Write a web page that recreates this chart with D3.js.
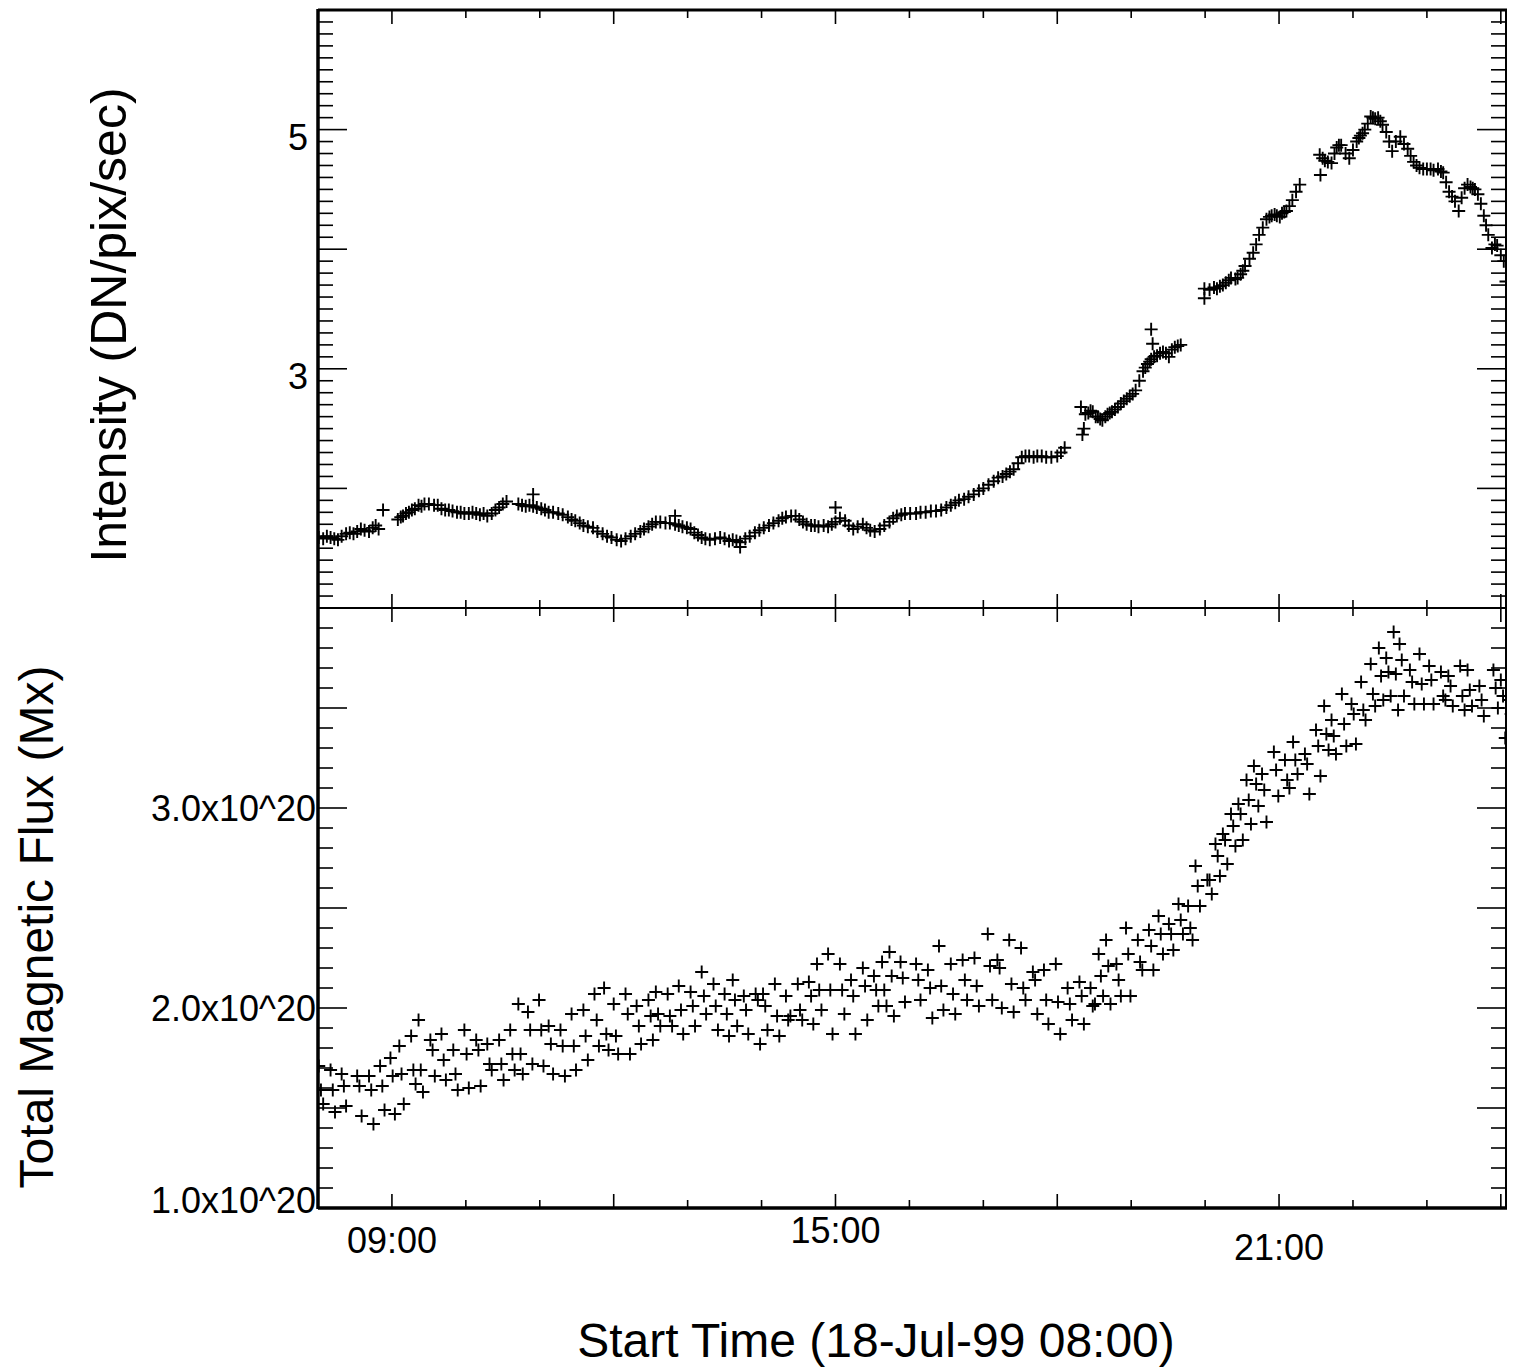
<!DOCTYPE html>
<html>
<head>
<meta charset="utf-8">
<title>Intensity and total magnetic flux, 18-Jul-99</title>
<script src="https://cdn.jsdelivr.net/npm/d3@7"></script>
<style>
  body { margin:0; background:#fff; }
  svg { display:block; }
  text { font-family: "Liberation Sans", Arial, Helvetica, sans-serif; fill:#000; }
</style>
</head>
<body>
<svg id="chart" width="1519" height="1370"></svg>
<script>
// ---- data (hours after 18-Jul-99 00:00) ----
const intHours = [
  8.01,8.07,8.12,8.17,8.22,8.27,8.32,8.38,8.43,8.48,8.53,8.58,8.63,8.69,8.74,8.78,8.82,8.88,
  9.08,9.12,9.15,9.19,9.23,9.27,9.31,9.36,9.40,9.44,9.50,9.57,9.62,9.67,9.72,9.77,9.82,9.88,9.93,9.98,
  10.04,10.09,10.14,10.19,10.24,10.29,10.35,10.40,10.45,10.50,10.55,
  10.71,10.76,10.81,10.86,10.91,10.91,10.96,11.02,11.07,11.12,11.18,11.25,11.31,11.38,11.43,11.48,11.54,
  11.59,11.65,11.72,11.78,11.85,11.91,11.97,12.04,12.10,12.16,12.23,12.29,12.36,12.41,12.47,12.52,12.57,
  12.63,12.70,12.76,12.83,12.83,12.88,12.93,12.99,13.04,13.09,13.14,13.19,13.24,13.30,13.37,13.44,13.50,
  13.56,13.61,13.66,13.71,13.71,13.78,13.84,13.91,13.97,14.03,14.10,14.16,14.23,14.28,14.33,14.40,14.46,
  14.51,14.56,14.61,14.67,14.72,14.77,14.84,14.90,14.95,15.00,15.00,15.06,15.13,15.18,15.24,15.30,15.37,
  15.42,15.47,15.53,15.60,15.66,15.73,15.78,15.83,15.89,15.94,16.01,16.09,16.15,16.22,16.29,16.36,16.43,
  16.50,16.56,16.62,16.67,16.74,16.80,16.87,16.94,17.00,17.07,17.14,17.20,17.26,17.31,17.36,17.41,17.47,
  17.52,17.57,17.62,17.68,17.73,17.79,17.85,17.92,18.00,18.05,18.10,
  18.32,18.34,18.36,18.38,18.42,18.45,18.48,18.52,18.55,18.58,18.61,18.65,18.68,18.71,18.74,18.78,18.82,
  18.86,18.90,18.94,18.98,19.02,19.06,19.11,19.16,19.19,19.22,19.25,19.27,19.27,19.29,19.31,19.35,19.39,
  19.43,19.47,19.51,19.55,19.59,19.63,19.67,
  19.99,19.99,20.06,20.12,20.16,20.20,20.24,20.28,20.32,20.35,20.41,20.44,20.48,20.51,20.54,20.60,20.65,
  20.69,20.73,20.78,20.83,20.87,20.90,20.94,20.97,21.01,21.04,21.07,21.10,21.14,21.18,21.23,21.28,
  21.55,21.56,21.59,21.62,21.66,21.71,21.75,21.78,21.81,21.84,21.90,21.95,22.00,22.05,22.08,22.10,22.13,
  22.16,22.20,22.24,22.27,22.30,22.34,22.37,22.40,22.45,22.49,22.53,22.58,22.64,22.69,22.74,22.78,22.82,
  22.86,22.90,22.95,23.00,23.05,23.09,23.15,23.19,23.22,23.26,23.30,23.34,23.38,23.43,23.47,23.51,23.55,
  23.59,23.62,23.65,23.69,23.73,23.77,23.80,23.83,23.88,23.92,23.95,24.00,24.04,24.07
];
const intValues = [
  1.59,1.58,1.60,1.59,1.58,1.57,1.60,1.62,1.63,1.62,1.64,1.66,1.65,1.64,1.67,1.69,1.66,1.82,
  1.74,1.76,1.77,1.79,1.80,1.82,1.83,1.86,1.85,1.87,1.87,1.86,1.86,1.83,1.82,1.82,1.81,1.80,1.80,1.79,
  1.79,1.80,1.79,1.78,1.79,1.77,1.79,1.82,1.84,1.87,1.89,
  1.87,1.86,1.85,1.86,1.85,1.95,1.84,1.83,1.82,1.80,1.80,1.79,1.78,1.76,1.74,1.73,1.71,
  1.69,1.68,1.67,1.64,1.62,1.60,1.59,1.57,1.56,1.58,1.60,1.62,1.64,1.66,1.68,1.70,1.72,
  1.72,1.71,1.71,1.70,1.77,1.69,1.68,1.67,1.66,1.63,1.61,1.59,1.58,1.57,1.58,1.59,1.58,
  1.56,1.57,1.56,1.55,1.51,1.58,1.60,1.63,1.65,1.67,1.69,1.71,1.73,1.75,1.76,1.77,1.77,
  1.74,1.72,1.70,1.69,1.69,1.68,1.69,1.68,1.70,1.72,1.84,1.75,1.73,1.69,1.66,1.68,1.70,
  1.67,1.65,1.64,1.66,1.69,1.72,1.75,1.77,1.78,1.79,1.79,1.79,1.80,1.80,1.81,1.81,1.82,
  1.84,1.86,1.88,1.90,1.91,1.93,1.95,1.98,2.00,2.03,2.06,2.09,2.10,2.12,2.14,2.16,2.21,
  2.26,2.27,2.27,2.26,2.27,2.27,2.26,2.26,2.27,2.30,2.34,
  2.68,2.45,2.50,2.62,2.63,2.65,2.64,2.60,2.60,2.58,2.57,2.60,2.62,2.63,2.64,2.66,2.68,
  2.71,2.73,2.75,2.77,2.79,2.82,2.90,2.98,3.01,3.04,3.06,3.08,3.33,3.21,3.10,3.11,3.13,
  3.14,3.13,3.10,3.16,3.18,3.19,3.20,
  3.67,3.59,3.66,3.68,3.67,3.69,3.70,3.72,3.74,3.76,3.75,3.76,3.79,3.82,3.86,3.92,3.97,
  4.04,4.12,4.18,4.25,4.27,4.28,4.29,4.28,4.27,4.30,4.31,4.32,4.36,4.41,4.48,4.54,
  4.79,4.62,4.76,4.74,4.73,4.72,4.80,4.85,4.87,4.87,4.80,4.76,4.83,4.90,4.93,4.95,4.97,
  5.00,5.05,5.11,5.10,5.09,5.10,5.07,5.04,4.98,4.90,4.82,4.90,4.94,4.88,4.84,4.78,4.73,
  4.70,4.68,4.67,4.67,4.67,4.66,4.67,4.65,4.64,4.56,4.48,4.44,4.40,4.32,4.43,4.51,4.54,
  4.52,4.51,4.50,4.46,4.38,4.28,4.20,4.12,4.01,4.04,4.03,3.95,3.90,3.73
];

// total magnetic flux, in units of 1e20 Mx, three interleaved samples per time step
const fluxHours = [
  8.01,8.17,8.32,8.53,8.69,8.84,8.98,9.10,9.26,9.36,9.52,9.67,9.83,9.98,10.14,10.29,10.45,10.60,10.71,
  10.84,10.99,11.12,11.28,11.43,11.59,11.74,11.87,12.00,12.16,12.31,12.47,12.57,12.73,12.88,13.04,13.19,
  13.35,13.50,13.61,13.76,13.92,14.02,14.18,14.33,14.49,14.64,14.75,14.90,15.06,15.21,15.37,15.52,15.63,
  15.73,15.88,16.09,16.25,16.40,16.56,16.72,16.88,17.06,17.19,17.35,17.51,17.67,17.82,17.98,18.14,18.30,
  18.45,18.56,18.66,18.80,18.93,19.09,19.24,19.37,19.51,19.64,19.77,19.87,20.03,20.14,20.24,20.35,20.45,
  20.56,20.66,20.77,20.93,21.08,21.19,21.35,21.50,21.61,21.71,21.85,21.98,22.11,22.24,22.35,22.45,22.55,
  22.63,22.77,22.90,23.03,23.19,23.29,23.45,23.55,23.71,23.90,24.00,24.08
];
const fluxUpper = [
  1.71,1.69,1.67,1.66,1.66,1.71,1.75,1.81,1.86,1.94,1.84,1.87,1.79,1.89,1.84,1.82,1.84,1.89,2.02,
  1.98,2.04,1.91,1.89,1.97,1.99,2.07,2.10,2.02,2.07,2.01,2.04,2.08,2.07,2.11,2.08,2.18,
  2.12,2.07,2.14,2.06,2.07,2.07,2.12,2.06,2.12,2.13,2.22,2.27,2.22,2.14,2.20,2.16,2.23,
  2.28,2.23,2.22,2.19,2.31,2.22,2.24,2.25,2.37,2.24,2.34,2.30,2.18,2.19,2.22,2.10,2.13,
  2.10,2.27,2.34,2.22,2.40,2.34,2.39,2.46,2.42,2.52,2.51,2.71,2.64,2.82,2.87,2.97,3.02,
  3.14,3.21,3.17,3.28,3.24,3.33,3.27,3.39,3.51,3.44,3.57,3.52,3.63,3.72,3.80,3.75,3.88,
  3.82,3.69,3.77,3.71,3.68,3.66,3.71,3.69,3.61,3.69,3.64,3.64
];
const fluxMid = [
  1.59,1.59,1.61,1.61,1.59,1.61,1.66,1.67,1.69,1.69,1.79,1.74,1.67,1.77,1.79,1.72,1.72,1.77,1.77,
  1.89,1.89,1.82,1.81,1.81,1.86,1.94,1.87,1.86,1.97,1.91,1.96,1.97,1.96,1.99,2.01,2.06,
  2.01,1.97,2.04,1.99,2.04,2.01,1.96,1.94,1.99,2.06,2.09,2.09,2.09,2.06,2.11,2.09,2.09,
  2.16,2.15,2.14,2.10,2.11,2.07,2.14,2.11,2.21,2.20,2.12,2.10,2.14,2.04,2.03,2.02,2.06,
  2.01,2.16,2.21,2.14,2.27,2.23,2.31,2.37,2.37,2.44,2.40,2.61,2.64,2.76,2.84,2.91,2.97,
  3.04,3.12,3.09,3.19,3.14,3.24,3.22,3.31,3.37,3.36,3.42,3.47,3.49,3.57,3.66,3.68,3.67,
  3.74,3.63,3.62,3.64,3.56,3.61,3.56,3.59,3.54,3.60,3.56,3.54
];
const fluxLower = [
  1.52,1.48,1.51,1.46,1.42,1.49,1.47,1.52,1.62,1.58,1.66,1.64,1.59,1.60,1.61,1.69,1.64,1.69,1.67,
  1.72,1.71,1.67,1.66,1.69,1.74,1.81,1.79,1.77,1.77,1.82,1.84,1.91,1.91,1.87,1.91,1.97,
  1.89,1.86,1.91,1.87,1.82,1.89,1.86,1.96,1.94,1.92,1.99,1.87,1.97,1.87,1.94,2.01,2.01,
  1.96,2.03,2.04,1.95,1.99,1.97,2.04,2.01,2.04,2.00,1.98,2.04,1.97,1.92,1.87,1.94,1.92,
  2.02,2.06,2.02,2.06,2.06,2.19,2.19,2.27,2.29,2.37,2.34,2.51,2.57,2.66,2.72,2.81,2.84,
  2.92,3.01,2.93,3.06,3.10,3.17,3.07,3.16,3.29,3.27,3.31,3.32,3.44,3.51,3.54,3.56,3.49,
  3.56,3.52,3.52,3.52,3.54,3.51,3.49,3.51,3.46,3.50,3.35,3.47
];

// axis labelling
const xLabelHours = [9, 15, 21];
const intLabelValues = [3, 5];
const fluxLabelValues = [1, 2, 3];

// ---- layout ----
const L = 318, R = 1506, T = 10, M = 608, B = 1208;
const svg = d3.select("#chart");

const x = d3.scaleLinear().domain([8, 24.07]).range([L, R]);
const yI = d3.scaleLinear().domain([1, 6]).range([M, T]);
const yF = d3.scaleLinear().domain([1, 4]).range([B, M]);

const hourTicks = d3.range(9, 25);
const fmtHour = h => d3.format("02d")(h) + ":00";

// clip paths
const defs = svg.append("defs");
defs.append("clipPath").attr("id", "clipI").append("rect")
  .attr("x", L).attr("y", T).attr("width", R - L).attr("height", M - T);
defs.append("clipPath").attr("id", "clipF").append("rect")
  .attr("x", L).attr("y", M).attr("width", R - L).attr("height", B - M);

// ticks on the four sides of a panel, all pointing inward
function panelTicks(y, yTop, yBot, isMajorY, yTickVals) {
  const g = svg.append("g").attr("stroke", "#000").attr("stroke-width", 1.6);
  hourTicks.forEach(h => {
    const len = h % 3 === 0 ? 14 : 8;
    g.append("line").attr("x1", x(h)).attr("x2", x(h)).attr("y1", yTop).attr("y2", yTop + len);
    g.append("line").attr("x1", x(h)).attr("x2", x(h)).attr("y1", yBot).attr("y2", yBot - len);
  });
  yTickVals.forEach(v => {
    const len = isMajorY(v) ? 29 : 15;
    g.append("line").attr("x1", L).attr("x2", L + len).attr("y1", y(v)).attr("y2", y(v));
    g.append("line").attr("x1", R).attr("x2", R - len).attr("y1", y(v)).attr("y2", y(v));
  });
}

const intTickVals = d3.range(11, 60).map(i => i / 10);
panelTicks(yI, T, M, v => Math.abs(v - Math.round(v)) < 1e-6, intTickVals);
const fluxTickVals = d3.range(11, 40).map(i => i / 10);
panelTicks(yF, M, B, v => Math.abs(v * 2 - Math.round(v * 2)) < 1e-6, fluxTickVals);

// frame
const frame = svg.append("g").attr("stroke", "#000").attr("fill", "none");
frame.append("line").attr("x1", L).attr("x2", L).attr("y1", T - 1).attr("y2", B + 1).attr("stroke-width", 3.5);
frame.append("line").attr("x1", R).attr("x2", R).attr("y1", T).attr("y2", B).attr("stroke-width", 2);
frame.append("line").attr("x1", L).attr("x2", R + 1).attr("y1", T).attr("y2", T).attr("stroke-width", 3);
frame.append("line").attr("x1", L).attr("x2", R).attr("y1", M).attr("y2", M).attr("stroke-width", 2);
frame.append("line").attr("x1", L).attr("x2", R + 1).attr("y1", B).attr("y2", B).attr("stroke-width", 3.5);

// plus markers
const plus = "M-6.5,0H6.5M0,-6.5V6.5";
function plotPlus(clipId, pts, y) {
  svg.append("g").attr("clip-path", `url(#${clipId})`)
    .selectAll("path").data(pts).join("path")
    .attr("d", plus)
    .attr("transform", d => `translate(${x(d[0])},${y(d[1])})`)
    .attr("fill", "none").attr("stroke", "#000").attr("stroke-width", 1.9);
}

plotPlus("clipI", intHours.map((h, i) => [h, intValues[i]]), yI);
const fluxPts = [];
fluxHours.forEach((h, i) => {
  fluxPts.push([h, fluxUpper[i]], [h + 0.03, fluxMid[i]], [h + 0.06, fluxLower[i]]);
});
plotPlus("clipF", fluxPts, yF);

// tick labels
svg.append("g").selectAll("text").data(intLabelValues).join("text")
  .attr("x", L - 10).attr("y", d => yI(d) + 8)
  .attr("dy", "0.35em").attr("text-anchor", "end")
  .style("font-size", "36px").text(d => String(d));

svg.append("g").selectAll("text").data(fluxLabelValues).join("text")
  .attr("x", L - 2).attr("y", d => yF(d) - (d === 1 ? 8 : 0))
  .attr("dy", "0.35em").attr("text-anchor", "end")
  .style("font-size", "36px").text(d => d.toFixed(1) + "x10^20");

const xLabelShift = [0, -10, 7];
svg.append("g").selectAll("text").data(xLabelHours).join("text")
  .attr("x", d => x(d)).attr("y", (d, i) => 1240 + xLabelShift[i])
  .attr("dy", "0.35em").attr("text-anchor", "middle")
  .style("font-size", "36px").text(d => fmtHour(d));

// axis titles
svg.append("text")
  .attr("transform", "translate(126,325) rotate(-90)")
  .attr("text-anchor", "middle").style("font-size", "50px")
  .text("Intensity (DN/pix/sec)");
svg.append("text")
  .attr("transform", "translate(53,927) rotate(-90)")
  .attr("text-anchor", "middle").style("font-size", "48px")
  .text("Total Magnetic Flux (Mx)");
svg.append("text")
  .attr("x", 876).attr("y", 1357)
  .attr("text-anchor", "middle").style("font-size", "48px")
  .text("Start Time (18-Jul-99 08:00)");
</script>
</body>
</html>
